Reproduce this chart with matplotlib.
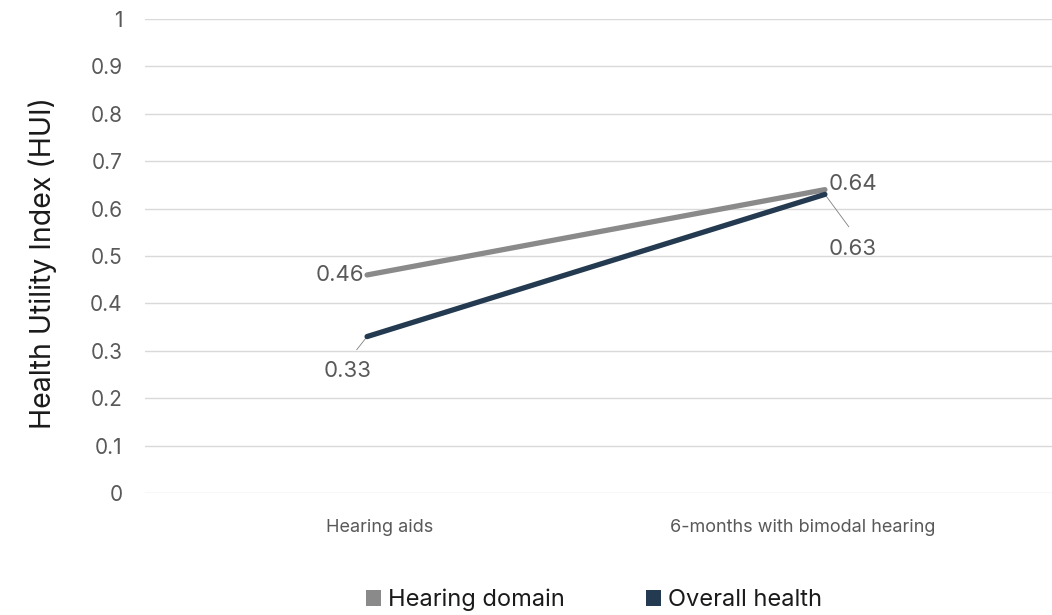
import matplotlib
matplotlib.use("Agg")
import matplotlib.pyplot as plt
from matplotlib.patches import Patch

plt.rcParams['font.family'] = ['Inter', 'DejaVu Sans']

categories = ["Hearing aids", "6-months with bimodal hearing"]
series_names = ["Hearing domain", "Overall health"]
hearing_domain = [0.46, 0.64]
overall_health = [0.33, 0.63]
y_ticks = [0, 0.1, 0.2, 0.3, 0.4, 0.5, 0.6, 0.7, 0.8, 0.9, 1]
y_tick_labels = ["0", "0.1", "0.2", "0.3", "0.4", "0.5", "0.6", "0.7", "0.8", "0.9", "1"]

gray = "#8a8a8a"
navy = "#243a50"
text_col = "#595959"

fig = plt.figure(figsize=(10.52, 6.15), dpi=100)
ax = fig.add_axes([145 / 1052, 1 - 493 / 615, (1052 - 145) / 1052, (493 - 19) / 615])

xs = [0, 1]
ax.plot(xs, hearing_domain, color=gray, lw=3.8, solid_capstyle="round", zorder=3)
ax.plot(xs, overall_health, color=navy, lw=3.8, solid_capstyle="round", zorder=4)

ax.set_xlim(-0.485, 1.496)
ax.set_ylim(0, 1)

for y in y_ticks:
    ax.axhline(y, color="#d9d9d9", lw=1.0, zorder=1)

ax.set_yticks(y_ticks)
ax.set_yticklabels(y_tick_labels, fontsize=15, color=text_col)
ax.tick_params(axis="y", length=0, pad=16)
ax.set_xticks([0.028, 0.952])
ax.set_xticklabels(categories, fontsize=13, color=text_col)
ax.tick_params(axis="x", length=0, pad=19)
for s in ax.spines.values():
    s.set_visible(False)

ax.set_ylabel("Health Utility Index (HUI)", fontsize=20.5, color="#1a1a1a")
ax.yaxis.set_label_coords(-0.097, 0.485)

# value labels
lab_kw = dict(fontsize=16, color=text_col)
ax.annotate(f"{hearing_domain[0]:.2f}", (xs[0], hearing_domain[0]), xytext=(-2, 0),
            textcoords="offset points", ha="right", va="center", **lab_kw)
ax.annotate(f"{hearing_domain[1]:.2f}", (xs[1], hearing_domain[1]), xytext=(3, 4),
            textcoords="offset points", ha="left", va="center", **lab_kw)
ax.annotate(f"{overall_health[0]:.2f}", (xs[0], overall_health[0]), xytext=(-14, -25),
            textcoords="offset points", ha="center", va="center", **lab_kw,
            arrowprops=dict(arrowstyle="-", color="#7f7f7f", lw=0.6,
                            shrinkA=8, shrinkB=0, relpos=(0.5, 1.0)))
ax.annotate(f"{overall_health[1]:.2f}", (xs[1], overall_health[1]), xytext=(20, -39),
            textcoords="offset points", ha="center", va="center", **lab_kw,
            arrowprops=dict(arrowstyle="-", color="#7f7f7f", lw=0.6,
                            shrinkA=8, shrinkB=0, relpos=(0.6, 1.0)))

handles = [Patch(facecolor=gray, edgecolor="none"), Patch(facecolor=navy, edgecolor="none")]
fig.legend(handles, series_names, loc="center", bbox_to_anchor=(594 / 1052, 1 - 600 / 615),
           ncol=2, frameon=False, fontsize=17, handlelength=0.65, handleheight=0.65,
           handletextpad=0.3, columnspacing=3.4, labelcolor="#1a1a1a")

fig.savefig("out.png", dpi=100)
